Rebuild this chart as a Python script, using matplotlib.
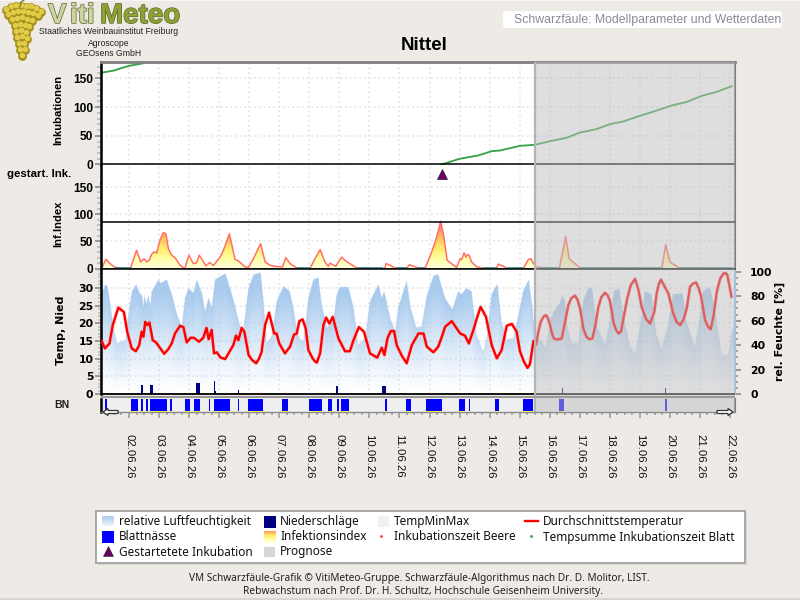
import matplotlib
matplotlib.use("Agg")
import matplotlib.pyplot as plt
import matplotlib.patheffects as pe
import numpy as np
from matplotlib.colors import LinearSegmentedColormap
from matplotlib.patches import FancyBboxPatch, Rectangle, FancyArrow
from matplotlib.ticker import MultipleLocator

# Zeitachse: Tag im Juni 2026 als Dezimalzahl
day_ticks = list(range(2, 23))
day_labels = ["%02d.06.26" % d for d in day_ticks]
prognose_start = 15.5
x_start = 1.068
x_end = 22.166

# Tempsumme Inkubationszeit Blatt, zwei Inkubationen
ink1_d = [1.09, 1.47, 1.97, 2.47]
ink1_v = [160, 163.4, 171.6, 176.3]
ink2_d = [12.40, 13.0, 13.62, 14.07, 14.35, 15.01, 15.51, 16.01, 16.56, 17.01, 17.56, 18.0,
          18.45, 19.0, 19.56, 20.06, 20.56, 21.06, 21.56, 22.06]
ink2_v = [0, 9.9, 15.7, 23.2, 24.4, 32.5, 34.3, 40.6, 46.5, 55.7, 61.6, 70.3,
          75, 84.8, 94, 102.8, 109, 119.6, 126.6, 136.5]
gestartet_d = [12.41]

# Infektionsindex
inf_d = [1.09, 1.23, 1.37, 1.53, 2.05, 2.25, 2.39, 2.5, 2.59, 2.68, 2.75, 2.83, 2.92, 3.03, 3.14,
         3.23, 3.31, 3.42, 3.53, 3.7, 3.86, 3.99, 4.14, 4.25, 4.34, 4.56, 4.69, 4.81, 5.03, 5.14,
         5.34, 5.53, 5.64, 5.86, 5.97, 6.14, 6.38, 6.53, 6.69, 6.86, 7.11, 7.22, 7.36, 7.58, 8.02,
         8.19, 8.36, 8.52, 8.63, 8.69, 8.88, 8.97, 9.08, 9.19, 9.35, 9.58, 10.46, 10.52, 10.55,
         10.69, 10.85, 11.24, 11.33, 11.57, 11.85, 12.07, 12.24, 12.37, 12.46, 12.59, 12.9, 13.02,
         13.07, 13.15, 13.21, 13.26, 13.32, 13.4, 13.57, 13.79, 14.23, 14.29, 14.46, 14.57, 15.12,
         15.29, 15.38, 15.46, 15.57, 15.68, 16.32, 16.53, 16.65, 17.01, 19.73, 19.86, 20.0, 20.31, 22.1]
inf_v = [0, 17, 9, 2, 0, 33.5, 12, 18, 12, 16, 26, 30.5, 28.7, 52, 66,
         64, 36.6, 24.4, 20, 6, 0, 24.4, 9, 10.4, 24.4, 4.9, 11, 5.5, 21, 33.5,
         64, 16.5, 14, 3, 2, 18, 45.7, 12, 6, 4, 3, 20, 9, 1, 0,
         18, 34.8, 12, 4, 10, 4, 12, 21, 15, 9, 1, 0, 1, 9,
         6, 1, 0.5, 7, 2, 0, 30, 58, 87, 64, 15, 2, 18,
         16.5, 29, 21, 25.6, 24.4, 12, 3, 0.5, 0.5, 8, 4, 0.5, 0,
         16.5, 18, 9, 3, 2, 0, 59, 18, 1, 0, 44.5, 12, 1, 0]
inf_schwelle = 85
inf_null_von = [1.53, 7.58, 9.6, 10.89, 11.63, 13.79, 14.57, 15.68, 17.01, 20.31]
inf_null_bis = [2.05, 8.02, 10.46, 11.24, 11.85, 14.23, 15.12, 16.32, 19.73, 22.1]

# Durchschnittstemperatur
temp_d = [1.09, 1.2, 1.35, 1.46, 1.645, 1.83, 1.94, 2.09, 2.23, 2.34, 2.42, 2.48, 2.54, 2.61, 2.68,
          2.79, 2.9, 3.17, 3.3, 3.42, 3.53, 3.7, 3.81, 3.92, 4.05, 4.16, 4.33, 4.47, 4.58, 4.65, 4.75,
          4.83, 4.92, 5.05, 5.2, 5.47, 5.56, 5.64, 5.75, 5.84, 5.98, 6.1, 6.23, 6.32, 6.41, 6.53, 6.66, 6.83,
          6.91, 7.0, 7.19, 7.36, 7.49, 7.58, 7.67, 7.78, 7.88, 7.97, 8.11, 8.18, 8.25, 8.36, 8.47, 8.56,
          8.67, 8.78, 8.97, 9.19, 9.35, 9.47, 9.65, 9.82, 10.02, 10.26, 10.41, 10.5, 10.6, 10.71,
          10.82, 10.91, 11.08, 11.24, 11.41, 11.63, 11.8, 11.91, 12.13, 12.29, 12.41, 12.52, 12.74, 13.02, 13.18,
          13.31, 13.46, 13.58, 13.7, 13.88, 14.07, 14.24, 14.4, 14.57, 14.74, 14.9, 15.01, 15.14, 15.26, 15.34,
          15.46, 15.51, 15.545, 15.62, 15.7, 15.8, 15.88, 15.95, 16.01, 16.08, 16.14, 16.25, 16.4, 16.5,
          16.62, 16.72, 16.84, 16.93, 17.01, 17.12, 17.22, 17.32, 17.42, 17.52, 17.62, 17.72, 17.84,
          17.93, 18.01, 18.12, 18.2, 18.29, 18.37, 18.47, 18.58, 18.7, 18.84, 18.95, 19.06, 19.2, 19.34,
          19.48, 19.56, 19.63, 19.7, 19.82, 19.95, 20.11, 20.22, 20.34, 20.45, 20.56, 20.67, 20.77, 20.87,
          20.95, 21.03, 21.17, 21.27, 21.36, 21.46, 21.56, 21.67, 21.78, 21.85, 21.91, 22.05]
temp_v = [15, 12.9, 14.3, 19.5, 24.4, 23.2, 17.6, 12.9, 12.1, 13.8, 17.6, 16.2, 20.4, 19.5, 20.2,
          15.2, 14.6, 11.4, 12.6, 14.3, 17.1, 19.3, 18.9, 14.6, 15.9, 15.9, 14.8, 15.9, 18.7, 15.5, 18.1,
          11.5, 11.8, 10.3, 9.9, 13.8, 16.5, 15.2, 18.7, 17.6, 11, 9.6, 8.7, 9.9, 11.8, 19.5, 23, 17.1,
          17.1, 14.3, 11.5, 13.4, 16.8, 17.1, 20.6, 21.1, 18.5, 12.4, 10.1, 9.3, 8.9, 11.5, 19.5, 21.6,
          19.9, 21.8, 15.7, 12.1, 12.1, 15.2, 18.9, 17.6, 11.5, 10.3, 13.1, 11, 15.7, 17.8,
          17.8, 13.8, 10.8, 8.7, 13.8, 17.1, 17.1, 13.4, 11.8, 13.4, 16.2, 19, 20.6, 17.1, 16.5,
          14.3, 18.1, 21.5, 24.6, 21.8, 13.8, 10.1, 12.4, 19.3, 19.8, 17.6, 12.1, 9.2, 7.4, 8.4,
          15, 15.2, 14, 17.5, 20.4, 21.9, 22.3, 21.2, 19.5, 17, 15.7, 15.4, 15.7, 20,
          25.1, 27.1, 27.8, 26.5, 24.2, 18.5, 16.2, 15.5, 15.7, 19.5, 24.6, 27.4, 28.6,
          27.8, 26.1, 20.4, 18.2, 17.1, 17.6, 22, 27, 30.8, 32.5, 29.5, 24.6, 21.3, 19.9,
          23.2, 28.4, 31, 32.3, 30.4, 28.4, 22.8, 20.4, 19.5, 21, 24.2, 30.3, 31.2, 31.5,
          30, 27.9, 20.9, 19, 18.3, 22.5, 28.9, 32.5, 34, 34.2, 33.6, 27.5]

# relative Luftfeuchtigkeit
hum_d = [1.07, 1.2, 1.28, 1.37, 1.48, 1.59, 1.76, 1.87, 1.94, 2.09, 2.23, 2.37, 2.42, 2.48, 2.51,
         2.57, 2.64, 2.7, 2.75, 2.98, 3.05, 3.25, 3.42, 3.59, 3.75, 3.86, 3.97, 4.14, 4.25, 4.42,
         4.53, 4.64, 4.75, 4.86, 5.2, 5.36, 5.53, 5.69, 5.8, 5.97, 6.14, 6.38, 6.47, 6.58, 6.75,
         6.91, 7.14, 7.34, 7.47, 7.58, 7.68, 7.8, 7.97, 8.13, 8.3, 8.41, 8.58, 8.8, 8.91, 9.02,
         9.3, 9.47, 9.63, 9.85, 10.02, 10.19, 10.3, 10.41, 10.49, 10.69, 10.85, 10.96, 11.24,
         11.37, 11.57, 11.74, 11.91, 12.13, 12.29, 12.52, 12.76, 12.96, 13.07, 13.22, 13.4, 13.57,
         13.79, 13.9, 14.07, 14.26, 14.4, 14.57, 14.79, 15.01, 15.12, 15.31, 15.43, 15.51, 15.68,
         15.88, 16.01, 16.12, 16.34, 16.43, 16.51, 16.59, 16.73, 16.95, 17.12, 17.29, 17.42, 17.56,
         17.84, 18.01, 18.14, 18.32, 18.45, 18.67, 18.84, 19.06, 19.17, 19.39, 19.56, 19.73, 19.95,
         20.11, 20.43, 20.56, 20.84, 20.98, 21.11, 21.34, 21.5, 21.73, 21.95, 22.05, 22.17]
hum_v = [81, 89, 87.7, 72.8, 53.7, 41.4, 42.8, 44, 59, 83.6, 89, 81, 81, 71, 81,
         72.8, 81, 71, 83.6, 93, 90, 93, 81, 64.6, 55, 78, 86, 82, 93, 82,
         67, 78, 70, 93, 98, 86, 71, 55, 52, 86, 97, 98.6, 75.5, 41.4, 47,
         75.5, 87.7, 83.6, 70, 52, 45, 43, 78, 93, 94.5, 72.8, 53.7, 59, 81, 87,
         87, 70, 40, 45.5, 75.5, 83.6, 89, 78, 83.6, 62, 51, 70, 92,
         70, 53.7, 55, 79.6, 96, 97.3, 78, 68.7, 83.6, 81, 86, 83.6, 48,
         34.6, 45.5, 81, 89.6, 59, 44, 45.5, 70, 83.6, 93, 70, 47, 44,
         38, 59, 66, 74, 80.4, 75.5, 55, 41.4, 41.4, 75.5, 86, 86, 56.4,
         40, 59, 83.6, 86, 64.6, 40, 32, 62, 83.6, 81, 48, 37, 56.4,
         81, 82, 59, 38, 59, 83.6, 87, 70, 32, 32, 47, 60]

# Niederschläge
regen_d = [2.43, 2.75, 3.86, 4.30, 4.84, 4.88, 5.58, 5.65, 8.92, 10.49, 16.42, 19.86]
regen_v = [2.5, 2.5, 0.3, 3.1, 3.7, 1.0, 0.3, 1.1, 2.3, 2.3, 1.8, 1.8]
regen_b = [0.07, 0.07, 0.07, 0.13, 0.05, 0.04, 0.09, 0.04, 0.07, 0.13, 0.04, 0.04]

# Blattnässe, Beginn und Ende der Phasen
bn_von = [1.20, 2.07, 2.40, 2.57, 2.70, 3.36, 3.86, 4.16, 4.66, 4.83, 5.64, 5.96, 7.09, 7.99, 8.62,
          8.92, 9.06, 10.52, 11.22, 11.88, 12.98, 13.31, 14.18, 15.11, 16.31, 19.84]
bn_bis = [1.27, 2.31, 2.47, 2.64, 3.28, 3.43, 4.03, 4.36, 4.70, 5.36, 5.67, 6.46, 7.29, 8.42, 8.75,
          8.99, 9.32, 10.59, 11.39, 12.42, 13.18, 13.35, 14.31, 15.46, 16.48, 19.90]

# Weintraube im Logo
traube_x = [6, 11, 16, 21, 26, 31, 36, 41, 8, 13, 18, 23, 28, 33, 38, 12, 17, 22, 27, 32, 15, 20, 25, 29,
            16, 21, 26, 17, 22, 27, 19, 24, 20, 25, 22]
traube_y = [10, 7, 6, 6, 7, 7, 9, 12, 15, 13, 12, 12, 13, 14, 16, 20, 19, 18, 20, 21, 26, 25, 26, 27,
            32, 31, 33, 38, 37, 39, 44, 44, 50, 50, 56]

bg = "#EEEBE7"
plt.rcParams["font.family"] = "Liberation Sans"

fig = plt.figure(figsize=(8, 6), dpi=100, facecolor=bg)
links, rechts = 101, 735


def panel(oben, unten):
    ax = fig.add_axes([links / 800, 1 - unten / 600, (rechts - links) / 800, (unten - oben) / 600])
    ax.set_xlim(x_start, x_end)
    ax.tick_params(axis="x", which="both", bottom=False, labelbottom=False)
    ax.xaxis.set_major_locator(MultipleLocator(1))
    ax.grid(True, axis="both", color="#E6E6E6", linestyle=":", linewidth=1.3, zorder=0)
    ax.set_axisbelow(True)
    for s in ["top", "bottom"]:
        ax.spines[s].set_visible(False)
    ax.spines["right"].set_color("#808080")
    ax.spines["right"].set_linewidth(1.5)
    ax.spines["left"].set_color("black")
    ax.spines["left"].set_linewidth(1.8)
    return ax


def yticks_arial(ax, major, minor):
    ax.yaxis.set_major_locator(MultipleLocator(major))
    ax.yaxis.set_minor_locator(MultipleLocator(minor))
    ax.tick_params(axis="y", which="major", length=4, width=1.4, color="#999999", pad=1.5, labelsize=8.6)
    ax.tick_params(axis="y", which="minor", length=3, width=1.2, color="#BBBBBB")
    for t in ax.get_yticklabels():
        t.set_fontweight("bold")


# Inkubationen
ax_ink = panel(62, 165)
ax_ink.set_ylim(-0.9, 178.6)
yticks_arial(ax_ink, 50, 10)
ax_ink.spines["top"].set_visible(True)
ax_ink.spines["top"].set_color("#808080")
ax_ink.spines["top"].set_linewidth(2)
ax_ink.plot(ink1_d, ink1_v, color="#35A045", linewidth=1.3)
ax_ink.plot(ink2_d, ink2_v, color="#35A045", linewidth=1.3)
ax_ink.axhline(0, color="black", linewidth=1.1, zorder=3)

# gestartete Inkubationen
ax_start = panel(165, 183)
ax_start.set_ylim(0, 1)
ax_start.set_yticks([])
ax_start.grid(True, axis="x", color="#E6E6E6", linestyle=":", linewidth=1.3)
ax_start.grid(False, axis="y")
ax_start.plot(gestartet_d, [0.5] * len(gestartet_d), linestyle="none", marker="^", markersize=6.5,
              color="#6B006B", markeredgecolor="#222222", markeredgewidth=0.5)

# Infektionsindex
ax_inf = panel(183, 269)
ax_inf.set_ylim(-0.9, 157.4)
yticks_arial(ax_inf, 50, 10)
inf_cmap = LinearSegmentedColormap.from_list(
    "inf", ["#FFFFE0", "#FFFFA8", "#FFF070", "#FFC864", "#FF9A66", "#FF7C66"])
poly = ax_inf.fill_between(inf_d, 0, inf_v, facecolor="none", edgecolor="none")
verlauf = np.linspace(0, 1, 200).reshape(-1, 1)
bild = ax_inf.imshow(verlauf, origin="lower", aspect="auto", cmap=inf_cmap, zorder=1,
                     extent=[x_start, x_end, 0, 90])
bild.set_clip_path(poly.get_paths()[0], transform=ax_inf.transData)
ax_inf.set_xlim(x_start, x_end)
ax_inf.set_ylim(-0.9, 157.4)
ax_inf.plot(inf_d, inf_v, color="#FF7068", linewidth=1.1, zorder=2)
ax_inf.axhline(0, color="black", linewidth=1.1, zorder=3)
ax_inf.axhline(inf_schwelle, color="black", linewidth=1.1, zorder=3)
ax_inf.hlines([0.6] * len(inf_null_von), inf_null_von, inf_null_bis, color="#1F8C8C", linewidth=1.1, zorder=4)

# Temperatur, Niederschlag und Luftfeuchte teilen sich eine Achse
ax_temp = panel(269, 394.5)
ax_temp.set_ylim(-0.1, 35.3)
ax_temp.set_yticks(range(0, 31, 5))
ax_temp.yaxis.set_minor_locator(MultipleLocator(1))
ax_temp.tick_params(axis="y", which="major", length=4, width=1.4, color="#999999", pad=1.5, labelsize=7.8)
ax_temp.tick_params(axis="y", which="minor", length=2.5, width=1.1, color="#BBBBBB")
for t in ax_temp.get_yticklabels():
    t.set_fontfamily("DejaVu Sans")
    t.set_fontweight("bold")
ax_temp.spines["right"].set_color("#9CC2EA")
ax_temp.spines["top"].set_visible(True)
ax_temp.spines["top"].set_linewidth(1.1)
ax_temp.spines["top"].set_color("black")

hum_faktor = 0.3455

# Feuchte als Fläche mit senkrechtem Verlauf, oben kräftig, zum Boden hin weiß
spalten = np.linspace(x_start, x_end, 1270)
zeilen = np.linspace(0, 35.3, 252)
hoehe = np.interp(spalten, hum_d, hum_v) * hum_faktor
bezug = 0.55 * hoehe + 0.45 * 26
anteil = zeilen[:, None] / bezug[None, :]
rgba = np.zeros((len(zeilen), len(spalten), 4))
rgba[..., 0] = 168 / 255
rgba[..., 1] = 202 / 255
rgba[..., 2] = 238 / 255
rgba[..., 3] = np.where(zeilen[:, None] <= hoehe[None, :], np.clip(anteil ** 1.25, 0, 1), 0)
ax_temp.imshow(rgba, origin="lower", aspect="auto", extent=[x_start, x_end, 0, 35.3], zorder=1)
ax_temp.set_xlim(x_start, x_end)
ax_temp.set_ylim(-0.1, 35.3)

ax_temp.plot(temp_d, temp_v, color="#F7A8A8", linewidth=2.8, alpha=0.4, zorder=2)
ax_temp.plot(temp_d, temp_v, color="#FF0000", linewidth=1.7, zorder=3)
ax_temp.bar(regen_d, regen_v, width=regen_b, color="#000080", zorder=4)
ax_temp.axhline(0, color="black", linewidth=1.3, zorder=5)

ax_feuchte = ax_temp.secondary_yaxis("right", functions=(lambda t: t / hum_faktor, lambda h: h * hum_faktor))
ax_feuchte.yaxis.set_major_locator(MultipleLocator(20))
ax_feuchte.yaxis.set_minor_locator(MultipleLocator(5))
ax_feuchte.tick_params(axis="y", which="major", length=4, width=1.4, color="#999999", pad=7, labelsize=7.8)
ax_feuchte.tick_params(axis="y", which="minor", length=2.5, width=1.1, color="#7F8FA6")
ax_feuchte.spines["right"].set_visible(False)
for t in ax_feuchte.get_yticklabels():
    t.set_fontfamily("DejaVu Sans")
    t.set_fontweight("bold")

# Blattnässe
ax_bn = panel(398.5, 412)
ax_bn.set_ylim(0, 1)
ax_bn.set_yticks([])
ax_bn.grid(False)
ax_bn.set_facecolor("#EFEFEF")
ax_bn.broken_barh([(a, b - a) for a, b in zip(bn_von, bn_bis)], (0.05, 0.95), facecolors="#0000FF", zorder=2)
ax_bn.broken_barh([(a, b - a) for a, b in zip(bn_von, bn_bis)], (0, 0.07), facecolors="#F5F03C", zorder=3)
ax_bn.spines["bottom"].set_visible(True)
ax_bn.spines["bottom"].set_color("#8A8A8A")
ax_bn.spines["bottom"].set_linewidth(1.0)
ax_bn.set_xticks(day_ticks)
ax_bn.set_xticklabels(day_labels, rotation=270, ha="center", va="top", fontsize=8.2, color="#111111")
ax_bn.xaxis.set_minor_locator(MultipleLocator(0.25))
ax_bn.tick_params(axis="x", which="major", bottom=True, labelbottom=True, length=4.5, width=1.4,
                  color="#AAAAAA", pad=11)
ax_bn.tick_params(axis="x", which="minor", bottom=True, length=2.2, width=1.4, color="#AAAAAA")

# Prognosezeitraum als graue Fläche über alle Panels
ax_prog = fig.add_axes([links / 800, 1 - 412 / 600, (rechts - links) / 800, (412 - 62) / 600], zorder=4)
ax_prog.set_xlim(x_start, x_end)
ax_prog.set_ylim(0, 1)
ax_prog.axis("off")
ax_prog.axvspan(prognose_start, x_end, facecolor="#BEBEBE", alpha=0.5, edgecolor="none")
ax_prog.axvline(prognose_start, color="#B4B4B4", linewidth=1.6)

# Texte, Logo und Legende in Pixelkoordinaten
ax_px = fig.add_axes([0, 0, 1, 1], zorder=5)
ax_px.set_xlim(0, 800)
ax_px.set_ylim(600, 0)
ax_px.axis("off")

ax_px.add_patch(Rectangle((0, 598), 800, 2, facecolor="#D8D6D2", edgecolor="none"))
ax_px.add_patch(Rectangle((0, 0), 800, 1, facecolor="#F7F6F4", edgecolor="none"))

ax_px.plot([20, 21, 24], [7, 2, 0], color="#8A7A20", linewidth=1)
ax_px.scatter(traube_x, traube_y, s=40, color="#A88E1C", linewidths=0)
ax_px.scatter(traube_x, [y - 0.6 for y in traube_y], s=16, color="#E0CC48", linewidths=0)

umriss = [pe.withStroke(linewidth=1, foreground="#5E6A2A")]
ax_px.text(48, 23, "V", fontsize=20, fontweight="bold", color="#CDD3A4", path_effects=umriss)
ax_px.text(70, 23, "iti", fontsize=20, fontweight="bold", color="#CDD3A4", path_effects=umriss)
ax_px.text(100, 23, "Meteo", fontsize=20, fontweight="bold", color="#8FA035", path_effects=umriss)
for text, y in zip(["Staatliches Weinbauinstitut Freiburg", "Agroscope", "GEOsens GmbH"], [32, 43, 54]):
    ax_px.text(108.5, y, text, fontsize=6.25, color="#222222", ha="center", va="center")

ax_px.add_patch(FancyBboxPatch((505, 13), 275, 13, boxstyle="round,pad=2,rounding_size=4",
                               facecolor="white", edgecolor="none"))
ax_px.text(781, 20, "Schwarzfäule: Modellparameter und Wetterdaten", fontsize=8.85, color="#8A8A96",
           ha="right", va="center")
ax_px.text(424, 45, "Nittel", fontsize=13.5, fontweight="bold", color="black", ha="center", va="center")

ax_px.text(58, 110, "Inkubationen", fontsize=8.1, fontweight="bold", rotation=90, ha="center", va="center")
ax_px.text(58, 224, "Inf.Index", fontsize=8.1, fontweight="bold", rotation=90, ha="center", va="center")
ax_px.text(39, 174, "gestart. Ink.", fontsize=8.2, fontweight="bold", ha="center", va="center")
ax_px.text(61, 330, "Temp, Nied", fontsize=7.9, fontweight="bold", family="DejaVu Sans", rotation=90,
           ha="center", va="center")
ax_px.text(780, 331, "rel. Feuchte [%]", fontsize=7.9, fontweight="bold", family="DejaVu Sans", rotation=90,
           ha="center", va="center")
ax_px.text(62, 405, "BN", fontsize=7.6, fontweight="bold", ha="center", va="center", color="#222222")

ax_px.add_patch(Rectangle((101, 395.8), 634, 2.4, facecolor="#9A9A9A", edgecolor="none"))
ax_px.add_patch(FancyArrow(118, 412, -15, 0, width=3, head_width=7, head_length=5, length_includes_head=True,
                           facecolor="white", edgecolor="#333333", linewidth=0.9))
ax_px.add_patch(FancyArrow(717, 412, 16, 0, width=3, head_width=7, head_length=5, length_includes_head=True,
                           facecolor="white", edgecolor="#333333", linewidth=0.9))

ax_px.add_patch(Rectangle((98, 513), 649, 52, facecolor="#D9D7D3", edgecolor="none"))
ax_px.add_patch(Rectangle((96, 511), 649, 52, facecolor="white", edgecolor="#A8A8A8", linewidth=1.4))

leg_font = dict(fontsize=8.5, family="Noto Sans", color="#111111", va="center")
zeile = [522, 537, 552]
spalte_text = [119, 280, 394, 543]
leg_texte = [("relative Luftfeuchtigkeit", 0, 0), ("Blattnässe", 0, 1), ("Gestartetete Inkubation", 0, 2),
             ("Niederschläge", 1, 0), ("Infektionsindex", 1, 1), ("Prognose", 1, 2),
             ("TempMinMax", 2, 0), ("Inkubationszeit Beere", 2, 1),
             ("Durchschnittstemperatur", 3, 0), ("Tempsumme Inkubationszeit Blatt", 3, 1)]
for text, sp, ze in leg_texte:
    ax_px.text(spalte_text[sp], zeile[ze], text, **leg_font)

blau_verlauf = LinearSegmentedColormap.from_list("blau", ["#A8CAEE", "#EEF5FC"])
ax_px.imshow(np.linspace(0, 1, 20).reshape(-1, 1), cmap=blau_verlauf, aspect="auto",
             extent=[102, 114, 526, 516], origin="upper", zorder=3)
ax_px.add_patch(Rectangle((102, 531), 12, 12, facecolor="#0000FF", edgecolor="none"))
ax_px.plot([108], [551], marker="^", markersize=6.5, color="#6B006B", markeredgecolor="#222222",
           markeredgewidth=0.4, linestyle="none")
ax_px.add_patch(Rectangle((263.5, 516), 12, 12, facecolor="#000080", edgecolor="none"))
inf_legende = LinearSegmentedColormap.from_list("inf_l", ["#FF9A66", "#FFE868", "#FFFFA0", "#FFFFE8"])
ax_px.imshow(np.linspace(0, 1, 20).reshape(-1, 1), cmap=inf_legende, aspect="auto",
             extent=[263.5, 275.5, 543, 531], origin="upper", zorder=3)
ax_px.add_patch(Rectangle((263.5, 547), 11, 10, facecolor="#D6D6D6", edgecolor="none"))
ax_px.add_patch(Rectangle((378, 516), 11, 11, facecolor="#F1F1F1", edgecolor="none"))
ax_px.plot([381], [536], marker=".", markersize=2, color="#F04040", linestyle="none")
ax_px.plot([525, 538], [521, 521], color="#FF0000", linewidth=1.7)
ax_px.plot([531], [536], marker=".", markersize=2, color="#35A045", linestyle="none")
ax_px.set_xlim(0, 800)
ax_px.set_ylim(600, 0)

ax_px.text(419.5, 578.5, "VM Schwarzfäule-Grafik © VitiMeteo-Gruppe. Schwarzfäule-Algorithmus nach Dr. D. Molitor, LIST.",
           fontsize=7.25, family="Noto Sans", color="#222222", ha="center", va="center")
ax_px.text(423.5, 591.5, "Rebwachstum nach Prof. Dr. H. Schultz, Hochschule Geisenheim University.",
           fontsize=7.35, family="Noto Sans", color="#222222", ha="center", va="center")

fig.savefig("out.png", dpi=100, facecolor=bg)
